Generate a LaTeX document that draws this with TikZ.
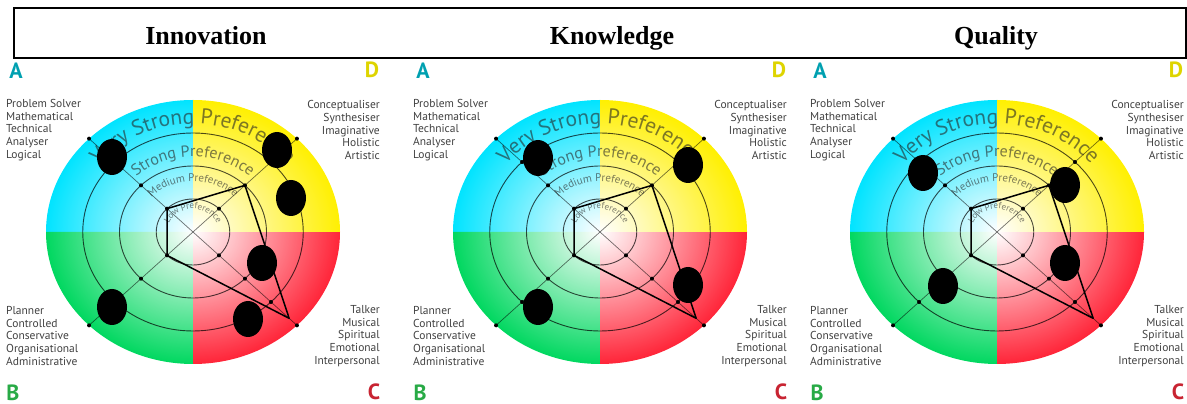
\documentclass[tikz,border=0pt]{standalone}
\usepackage{fontspec}
\setmainfont{Liberation Serif}
\setsansfont{PT Sans}
\usetikzlibrary{positioning,shapes.geometric,decorations.text,fadings}
\definecolor{quadA}{RGB}{0,228,255}
\definecolor{quadD}{RGB}{255,240,0}
\definecolor{quadB}{RGB}{0,216,96}
\definecolor{quadC}{RGB}{255,36,56}
\definecolor{letA}{RGB}{0,160,176}
\definecolor{letD}{RGB}{222,212,0}
\definecolor{letB}{RGB}{40,170,70}
\definecolor{letC}{RGB}{200,36,50}
\tikzfading[name=centrefade, inner color=transparent!0, outer color=transparent!100]

\begin{document}
\begin{tikzpicture}
  [
    x=1pt, y=1pt,
    title/.style={font=\bfseries\fontsize{26}{26}\selectfont, anchor=base, inner sep=0pt},
    trait/.style={font=\sffamily\fontsize{11.5}{12.6}\selectfont, text=black!75, inner sep=0pt},
    letter/.style={font=\sffamily\bfseries\fontsize{22}{22}\selectfont, inner sep=0pt},
    blob/.style={fill=black, ellipse, minimum width=30pt, minimum height=36pt, inner sep=0pt},
    ring/.style={draw=black, draw opacity=0.7, line width=0.9pt},
    spoke/.style={draw=black, draw opacity=0.55, line width=0.7pt},
    level/.style={decorate, decoration={text along path, text align=center, text color=black!85, text={#1}}},
    profile/.style={draw=black, line width=1.5pt, line join=round},
    wheel/.pic={
      \begin{scope}[x=147pt, y=132pt]
        \fill[quadA] (0,0) -- (90:1) arc[start angle=90, end angle=180, radius=1] -- cycle;
        \fill[quadB] (0,0) -- (180:1) arc[start angle=180, end angle=270, radius=1] -- cycle;
        \fill[quadC] (0,0) -- (270:1) arc[start angle=270, end angle=360, radius=1] -- cycle;
        \fill[quadD] (0,0) -- (0:1) arc[start angle=0, end angle=90, radius=1] -- cycle;
        \fill[white, path fading=centrefade] (0,0) circle[radius=1];
        \draw[ring] (0,0) circle[radius=0.25] (0,0) circle[radius=0.5] (0,0) circle[radius=0.75];
        \coordinate (-a) at (135:1);
        \coordinate (-b) at (225:1);
        \coordinate (-c) at (315:1);
        \coordinate (-d) at (45:1);
        \draw[spoke] (-a) -- (-c);
        \draw[spoke] (-d) -- (-b);
        \fill (45:0.25) circle[radius=2pt] (45:0.5) circle[radius=2pt] (45:0.75) circle[radius=2pt] (-d) circle[radius=2pt]
              (135:0.25) circle[radius=2pt] (135:0.5) circle[radius=2pt] (135:0.75) circle[radius=2pt] (-a) circle[radius=2pt]
              (225:0.25) circle[radius=2pt] (225:0.5) circle[radius=2pt] (225:0.75) circle[radius=2pt] (-b) circle[radius=2pt]
              (315:0.25) circle[radius=2pt] (315:0.5) circle[radius=2pt] (315:0.75) circle[radius=2pt] (-c) circle[radius=2pt];
        \begin{scope}[opacity=0.6, transparency group]
          \path[level={|\sffamily\fontsize{21.5}{21.5}\selectfont|Very Strong Preference}] (178:0.82) arc[start angle=178, end angle=2, radius=0.82];
          \path[level={|\sffamily\fontsize{16}{16}\selectfont|Strong Preference}] (178:0.57) arc[start angle=178, end angle=2, radius=0.57];
          \path[level={|\sffamily\fontsize{11}{11}\selectfont|Medium Preference}] (178:0.385) arc[start angle=178, end angle=2, radius=0.385];
          \path[level={|\sffamily\fontsize{9}{9}\selectfont|Low Preference}] (178:0.175) arc[start angle=178, end angle=2, radius=0.175];
        \end{scope}
        \coordinate (-pa) at (135:0.25);
        \coordinate (-pd) at (45:0.5);
        \coordinate (-pc) at (315:0.925);
        \coordinate (-pb) at (225:0.25);
        \draw[profile] (-pa) -- (-pd) -- (-pc) -- (-pb) -- cycle;
      \end{scope}
      \node (-la) [letter, text=letA] at (-177,161) {A};
      \node (-ld) [letter, text=letD] at (179,162) {D};
      \node (-lb) [letter, text=letB] at (-180,-161) {B};
      \node (-lc) [letter, text=letC] at (181,-160) {C};
      \node (-ta) [trait, anchor=west, align=left] at (-187,102) {Problem Solver\\Mathematical\\Technical\\Analyser\\Logical};
      \node (-td) [trait, anchor=east, align=right] at (187,102) {Conceptualiser\\Synthesiser\\Imaginative\\Holistic\\Artistic};
      \node (-tb) [trait, anchor=west, align=left] at (-187,-104) {Planner\\Controlled\\Conservative\\Organisational\\Administrative};
      \node (-tc) [trait, anchor=east, align=right] at (187,-104) {Talker\\Musical\\Spiritual\\Emotional\\Interpersonal};
    }
  ]
  \useasboundingbox (0,0) rectangle (1187,404);
  \node (hdr) [draw, line width=1.8pt, minimum width=1172pt, minimum height=50pt, inner sep=0pt] at (600,371) {};
  \node (inno) [title] at (206,359.5) {Innovation};
  \node (know) [title] at (612,359.5) {Knowledge};
  \node (qual) [title] at (996,359.5) {Quality};

  \pic (inn) at (193,172) {wheel};
  \pic (kno) at (600,172) {wheel};
  \pic (qua) at (997,172) {wheel};

  \node (i1) [blob] at (112,247) {};
  \node (i2) [blob] at (277,254) {};
  \node (i3) [blob] at (291,206) {};
  \node (i4) [blob] at (262,141) {};
  \node (i5) [blob] at (248,85) {};
  \node (i6) [blob] at (112,97) {};

  \node (k1) [blob] at (538,246) {};
  \node (k2) [blob] at (688,239) {};
  \node (k3) [blob] at (688,119) {};
  \node (k4) [blob] at (538,97) {};

  \node (q1) [blob] at (923,231) {};
  \node (q2) [blob] at (1065,219) {};
  \node (q3) [blob] at (1065,141) {};
  \node (q4) [blob] at (943,118) {};
\end{tikzpicture}
\end{document}
